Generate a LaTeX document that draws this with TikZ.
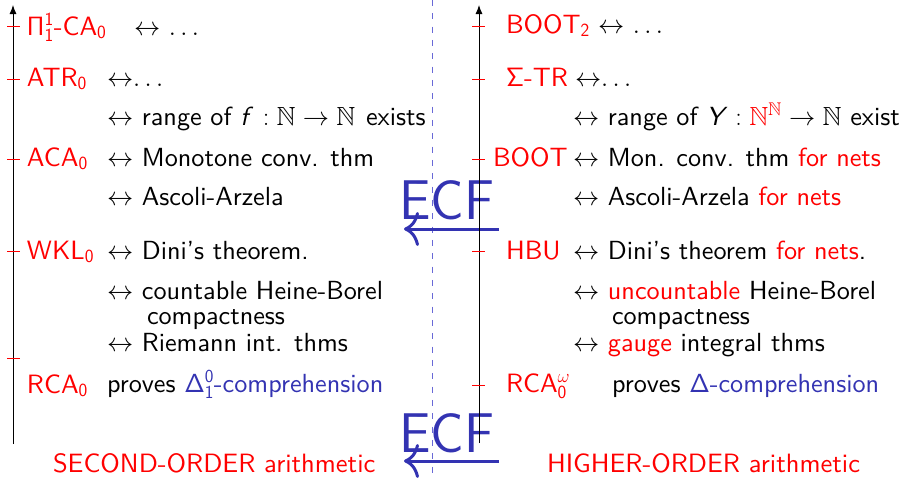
\RequirePackage{fix-cm}
\documentclass[tikz,border=0pt]{standalone}
\usepackage{amssymb}
\usepackage[no-math]{fontspec}
\setsansfont{lmsans10-regular.otf}[ItalicFont=lmsans10-oblique.otf,BoldFont=lmsans10-bold.otf]
\newfontfamily\ecffont{lmsans17-regular.otf}
\usetikzlibrary{arrows.meta}
\definecolor{ecfblue}{RGB}{51,51,178}
\definecolor{dashblue}{RGB}{105,105,215}
\begin{document}
\begin{tikzpicture}[x=1pt,y=-1pt,
  every node/.style={inner sep=0pt, outer sep=0pt, anchor=base west,
    font=\sffamily\fontsize{26.2}{28}\selectfont},
  lab/.style={text=red, font=\sffamily\fontsize{26.5}{30}\selectfont},
  ecf/.style={text=ecfblue, font=\ecffont\fontsize{56}{60}\selectfont},
  axisline/.style={line width=0.9pt, -{Latex[length=9pt,width=7pt]}},
  ticksty/.style={red, line width=0.9pt},
  ecfarrow/.style={ecfblue, line width=3pt, -{To[length=15pt,width=34pt]}},
  dashsep/.style={dashblue, line width=0.9pt, dash pattern=on 6pt off 7.33pt},
]
\useasboundingbox (0,0) rectangle (905,479);

% separator
\coordinate (st) at (432,0);
\coordinate (sb) at (432,479);
\draw[dashsep] (st) -- (sb);

% ECF labels and arrows
\node[ecf] (ecf1) at (399,219) {ECF};
\node[ecf] (ecf2) at (399,452) {ECF};
\coordinate (e1s) at (499,229);
\coordinate (e1t) at (404,229);
\coordinate (e2s) at (499,461);
\coordinate (e2t) at (404,461);
\draw[ecfarrow] (e1s) -- (e1t);
\draw[ecfarrow] (e2s) -- (e2t);

% axes
\coordinate (la0) at (13,444);
\coordinate (la1) at (13,5);
\coordinate (ra0) at (479,443);
\coordinate (ra1) at (479,5);
\draw[axisline] (la0) -- (la1);
\draw[axisline] (ra0) -- (ra1);
\foreach \yy in {26,79,159,251,358} \draw[ticksty] (7,\yy) -- (20,\yy);
\foreach \yy in {26,79,159,251,385} \draw[ticksty] (472,\yy) -- (485,\yy);

% left column
\node[lab] (pi) at (27,35) {$\mathsf{\Pi^1_1}$-CA$_{\mathsf 0}$};
\node (pid) at (134,35) {$\leftrightarrow$ $\ldots$};
\node[lab] (atr) at (27,86) {ATR$_{\mathsf 0}$};
\node (atrd) at (107,86) {$\leftrightarrow$$\ldots$};
\node (rng) at (107,125) {$\leftrightarrow$ range of $\textsf{\itshape f}\mkern5mu:\mathbb{N}\to\mathbb{N}$\hspace{2pt} exists};
\node[lab] (aca) at (27,166) {ACA$_{\mathsf 0}$};
\node (mon) at (107,166) {$\leftrightarrow$ Monotone conv. thm};
\node (asc) at (107,205) {$\leftrightarrow$ Ascoli-Arzela};
\node[lab] (wkl) at (27,259) {WKL$_{\mathsf 0}$};
\node (dini) at (107,259) {$\leftrightarrow$ Dini’s theorem.};
\node (hb) at (107,299) {$\leftrightarrow$ countable Heine-Borel};
\node (hbc) at (147,324) {compactness};
\node (riem) at (107,351) {$\leftrightarrow$ Riemann int. thms};
\node[lab] (rca) at (27,393) {RCA$_{\mathsf 0}$};
\node (prv) at (107,392) {proves \textcolor{ecfblue}{$\mathsf{\Delta^0_1}$-comprehension}};
\node[lab] (sec) at (53,472) {SECOND-ORDER arithmetic};

% right column
\node[lab] (boot2) at (506,33) {BOOT$_{\mathsf 2}$};
\node (b2d) at (598,33) {$\leftrightarrow$ $\ldots$};
\node[lab] (str) at (506,86) {$\mathsf{\Sigma}$-TR};
\node (strd) at (575,86) {$\leftrightarrow$$\ldots$};
\node (rngY) at (573,125) {$\leftrightarrow$ range of $\textsf{\itshape Y}\mkern3mu:{\color{red}\mathbb{N}^{\mathbb{N}}}\to\mathbb{N}$ exist};
\node[lab] (boot) at (493,166) {BOOT};
\node (mon2) at (573,166) {$\leftrightarrow$ Mon. conv. thm \textcolor{red}{for nets}};
\node (asc2) at (573,205) {$\leftrightarrow$ Ascoli-Arzela \textcolor{red}{for nets}};
\node[lab] (hbu) at (506,259) {HBU};
\node (dini2) at (573,259) {$\leftrightarrow$ Dini’s theorem \textcolor{red}{for nets}.};
\node (hbu2) at (573,299) {$\leftrightarrow$ \textcolor{red}{uncountable} Heine-Borel};
\node (hbu3) at (612,324) {compactness};
\node (gauge) at (573,351) {$\leftrightarrow$ \textcolor{red}{gauge} integral thms};
\node[lab] (rcaw) at (506,392) {RCA$_{\mathsf 0}^{\omega}$};
\node (prv2) at (612,392) {proves \textcolor{ecfblue}{$\mathsf{\Delta}$-comprehension}};
\node[lab] (hoa) at (547,472) {HIGHER-ORDER arithmetic};
\end{tikzpicture}
\end{document}
